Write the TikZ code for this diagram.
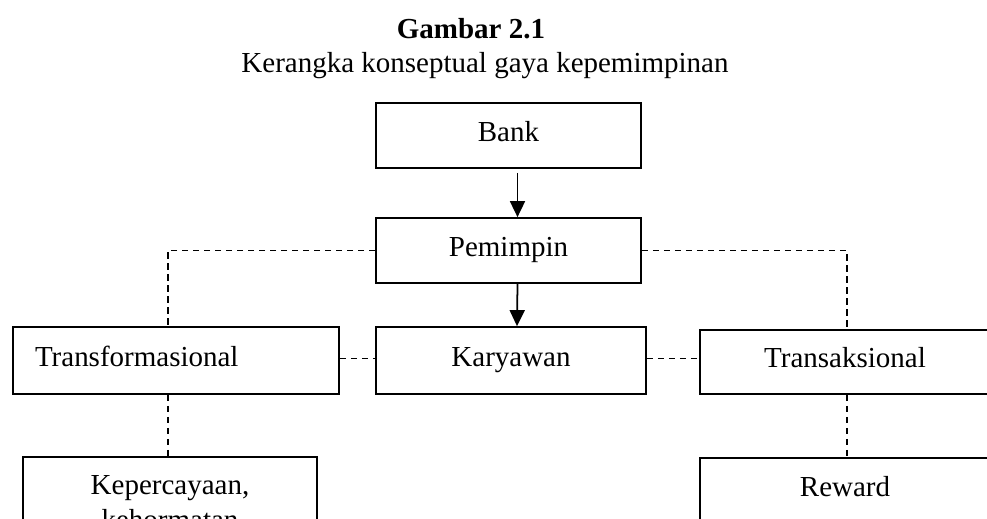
\documentclass[tikz,border=0pt]{standalone}
\usepackage{fontspec}
\setmainfont{Liberation Serif}
\usepackage{tikz}
\usetikzlibrary{arrows.meta, positioning, calc}
\tikzset{
  box/.style={rectangle, draw=black, line width=1pt, align=center,
    inner sep=0pt, text height=0.72em, text depth=0.05em},
  topbox/.style={rectangle, draw=black, line width=1pt, align=center,
    anchor=north, inner xsep=0pt, inner ysep=0.38cm},
  arrow/.style={-{Triangle[length=0.32cm, width=0.3cm]}, line width=1pt, color=black},
  dashline/.style={draw, line width=0.7pt, dash pattern=on 0.13cm off 0.09cm, color=black}
}

\begin{document}
\begin{tikzpicture}[x=0.02cm, y=-0.02cm, font=\fontsize{16.5}{19.8}\selectfont]
  \useasboundingbox (0,0) rectangle (987,518);

  % Title
  \node[anchor=base, font=\fontsize{16.5}{19.8}\selectfont\bfseries] (title) at (471,38) {Gambar 2.1};
  \node[anchor=base] (subtitle) at (485,72) {Kerangka konseptual gaya kepemimpinan};

  % Nodes
  \node[box, minimum width=5.3cm, minimum height=1.3cm] (bank) at (508.5,135.5) {Bank};
  \node[box, minimum width=5.3cm, minimum height=1.3cm] (pemimpin) at (508.5,250.5) {Pemimpin};
  \node[box, minimum width=5.4cm, minimum height=1.34cm] (karyawan) at (511,360.5) {Karyawan};
  \node[box, text width=5.64cm, align=left, inner xsep=0.44cm, minimum height=1.34cm] (transform) at (176,360.5) {Transformasional};
  \node[box, minimum width=5.8cm, minimum height=1.28cm] (transaks) at (845,362) {Transaksional};
  \node[topbox, text width=5.88cm] (percaya) at (170,456) {Kepercayaan,\\kehormatan};
  \node[topbox, text width=5.8cm] (reward) at (845,457) {\vphantom{K}Reward\\\vphantom{k}};

  % Helper points for the dashed links
  \coordinate (tfdown) at ($(transform.south)+(-8,0)$);
  \coordinate (tsdown) at ($(transaks.south)+(2,0)$);
  \coordinate (kyright) at ($(karyawan.east)+(0,-2)$);

  % Arrows
  \draw[arrow] ($(bank.south)+(9,4)$) -- ($(pemimpin.north)+(9,0)$);
  \draw[arrow] ($(pemimpin.south)+(9,0)$) -- ($(karyawan.north)+(6,0)$);

  % Dashed links
  \draw[dashline] (pemimpin.west) -| ($(transform.north)+(-8,0)$);
  \draw[dashline] (pemimpin.east) -| ($(transaks.north)+(2,0)$);
  \draw[dashline] ($(transform.east)+(0,-2)$) -- ($(karyawan.west)+(0,-2)$);
  \draw[dashline] (kyright) -- (kyright -| transaks.west);
  \draw[dashline] (tfdown) -- (tfdown |- percaya.north);
  \draw[dashline] (tsdown) -- (tsdown |- reward.north);
\end{tikzpicture}
\end{document}
